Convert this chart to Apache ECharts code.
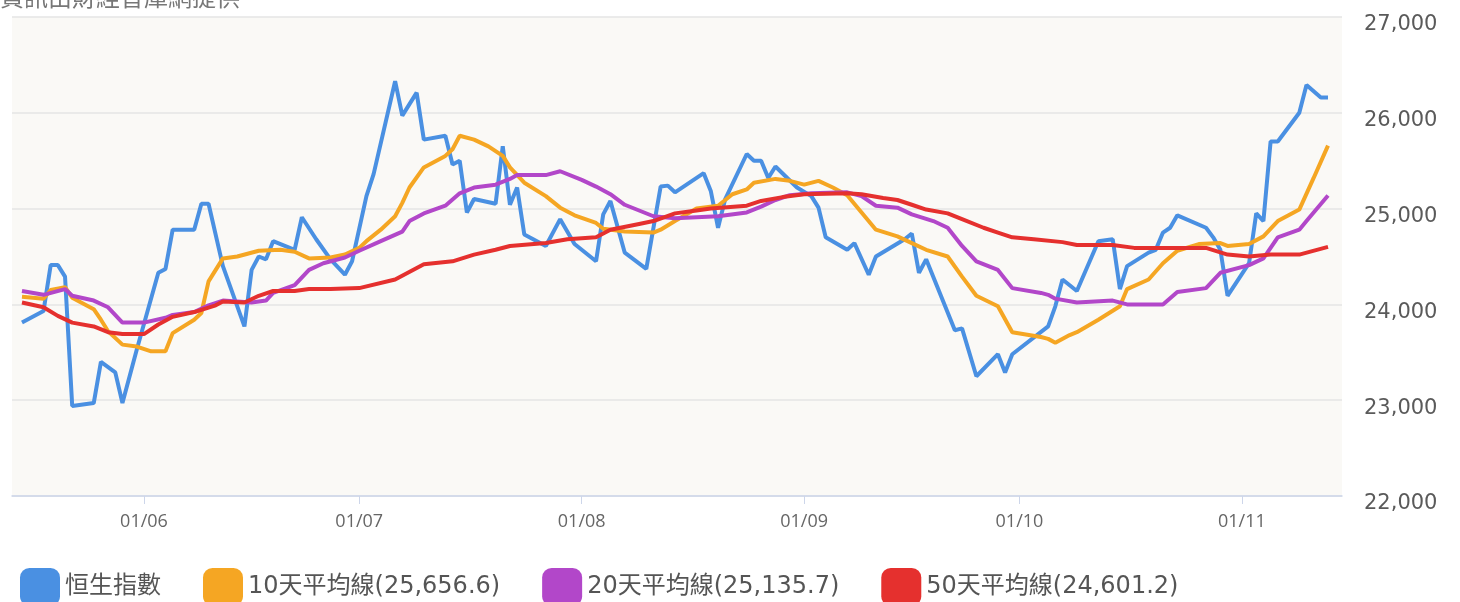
<!DOCTYPE html>
<html>
<head>
<meta charset="utf-8">
<script src="https://cdn.jsdelivr.net/npm/echarts@6/dist/echarts.min.js"></script>
<style>
  html, body { margin: 0; padding: 0; background: #fff; }
  #chart { width: 1460px; height: 602px; }
</style>
</head>
<body>
<div id="chart"></div>
<script>
// 恒生指數 + 10/20/50 day moving averages (dates are MM-DD)
const YEAR = "2025-";

const hsiDates = ["05-15","05-18","05-19","05-20","05-21","05-22","05-25","05-26","05-28","05-29","05-31",
  "06-03","06-04","06-05","06-08","06-09","06-10","06-12","06-15","06-16","06-17","06-18","06-19","06-22","06-23","06-25","06-27","06-29","06-30",
  "07-02","07-03","07-06","07-07","07-08","07-09","07-10","07-13","07-14","07-15","07-16","07-17","07-20","07-21","07-22","07-23","07-24","07-27","07-29","07-31",
  "08-03","08-04","08-05","08-07","08-10","08-12","08-13","08-14","08-18","08-19","08-20","08-21","08-24","08-25","08-26","08-27","08-28","08-31",
  "09-02","09-03","09-04","09-07","09-08","09-10","09-11","09-15","09-16","09-17","09-18","09-22","09-23","09-25","09-28","09-29","09-30",
  "10-05","10-06","10-07","10-09","10-12","10-14","10-15","10-16","10-19","10-20","10-21","10-22","10-23","10-27","10-28","10-29","10-30",
  "11-02","11-03","11-04","11-05","11-06","11-09","11-10","11-12","11-13"];
const hsiValues = [23810,23930,24410,24410,24290,22940,22970,23400,23290,22970,23530,
  24330,24370,24780,24780,25050,25050,24400,23770,24360,24500,24470,24660,24570,24910,24680,24470,24310,24450,
  25130,25360,26330,25970,26090,26210,25720,25760,25460,25500,24960,25100,25050,25650,25040,25220,24730,24610,24890,24630,
  24450,24940,25080,24540,24370,25230,25240,25170,25370,25180,24800,25100,25570,25500,25500,25320,25440,25220,
  25130,25010,24700,24570,24640,24310,24500,24680,24740,24330,24470,23730,23750,23250,23480,23290,23480,
  23770,23980,24260,24140,24660,24680,24160,24400,24540,24570,24750,24800,24930,24800,24700,24570,24090,
  24430,24950,24870,25700,25700,26000,26290,26160,26160];

const ma10Dates = ["05-15","05-18","05-19","05-21","05-22","05-25","05-26","05-27","05-29","05-31",
  "06-02","06-04","06-05","06-08","06-09","06-10","06-12","06-14","06-17","06-20","06-22","06-24","06-27","06-29",
  "07-01","07-02","07-04","07-06","07-07","07-08","07-10","07-13","07-14","07-15","07-17","07-19","07-21","07-22","07-24","07-27","07-29","07-31",
  "08-03","08-04","08-07","08-11","08-12","08-14","08-17","08-20","08-22","08-24","08-25","08-28","08-30",
  "09-01","09-03","09-05","09-07","09-09","09-11","09-14","09-16","09-18","09-21","09-23","09-25","09-28","09-30",
  "10-04","10-05","10-06","10-08","10-09","10-12","10-15","10-16","10-19","10-21","10-23","10-26","10-29","10-30",
  "11-02","11-04","11-06","11-09","11-11","11-13"];
const ma10Values = [24080,24060,24150,24180,24070,23950,23840,23720,23580,23560,
  23510,23510,23700,23840,23910,24240,24480,24500,24560,24570,24550,24480,24490,24520,
  24590,24660,24780,24920,25060,25220,25430,25550,25620,25760,25720,25650,25550,25430,25270,25130,25010,24930,
  24850,24790,24760,24750,24780,24870,25000,25030,25150,25200,25270,25310,25290,
  25250,25290,25220,25140,24960,24780,24710,24640,24570,24500,24290,24090,23980,23710,
  23660,23640,23600,23680,23710,23840,23980,24160,24260,24430,24560,24630,24640,24610,
  24630,24710,24870,24990,25320,25657];

const ma20Dates = ["05-15","05-18","05-21","05-22","05-25","05-27","05-29",
  "06-01","06-04","06-05","06-08","06-10","06-12","06-16","06-18","06-19","06-22","06-24","06-26","06-29",
  "07-01","07-04","07-07","07-08","07-10","07-13","07-15","07-17","07-20","07-22","07-23","07-27","07-29",
  "08-01","08-03","08-05","08-07","08-09","08-11","08-14","08-17","08-20","08-24","08-26","08-28","08-30",
  "09-02","09-07","09-09","09-11","09-14","09-16","09-19","09-21","09-23","09-25","09-28","09-30",
  "10-04","10-05","10-06","10-09","10-14","10-16","10-21","10-23","10-27","10-29",
  "11-02","11-04","11-06","11-09","11-10","11-13"];
const ma20Values = [24140,24100,24160,24090,24040,23970,23810,
  23810,23860,23890,23920,23990,24040,24020,24040,24120,24200,24360,24430,24490,
  24560,24660,24760,24870,24950,25030,25160,25220,25250,25310,25350,25350,25390,
  25300,25230,25150,25040,24980,24920,24900,24910,24920,24960,25020,25090,25140,
  25160,25170,25130,25030,25010,24940,24870,24800,24610,24450,24360,24170,
  24120,24100,24060,24020,24040,24000,24000,24130,24170,24330,
  24410,24480,24700,24780,24870,25136];

const ma50Dates = ["05-15","05-18","05-20","05-22","05-25","05-27","05-29",
  "06-01","06-03","06-05","06-08","06-11","06-12","06-15","06-17","06-19","06-22","06-24","06-27",
  "07-01","07-06","07-10","07-14","07-17","07-20","07-22","07-27","07-30",
  "08-03","08-05","08-09","08-11","08-14","08-17","08-19","08-24","08-26","08-29",
  "09-01","09-07","09-09","09-12","09-14","09-16","09-18","09-21","09-23","09-26","09-28","09-30",
  "10-03","10-07","10-09","10-14","10-17","10-22","10-27","10-30",
  "11-02","11-05","11-09","11-13"];
const ma50Values = [24020,23970,23880,23810,23770,23710,23690,
  23690,23790,23870,23920,23990,24030,24020,24090,24140,24140,24160,24160,
  24170,24260,24420,24450,24520,24570,24610,24640,24680,
  24700,24780,24840,24870,24950,24980,25000,25030,25080,25120,
  25150,25160,25150,25110,25090,25040,24990,24950,24890,24800,24750,24700,
  24680,24650,24620,24620,24590,24590,24590,24520,
  24500,24520,24520,24601];

const seriesNames = ["恒生指數", "10天平均線(25,656.6)", "20天平均線(25,135.7)", "50天平均線(24,601.2)"];
const seriesColors = ["#4a90e2", "#f5a623", "#b247c9", "#e5302e"];

const yTicks = { min: 22000, max: 27000, step: 1000 };

function pairs(dates, values) {
  return dates.map((d, i) => [YEAR + d, values[i]]);
}

const cjk = '"Noto Sans CJK TC", "Noto Sans", sans-serif';
const mixed = '"DejaVu Sans", "Noto Sans CJK TC", sans-serif';

const chart = echarts.init(document.getElementById("chart"));

const lineSeries = [
  pairs(hsiDates, hsiValues),
  pairs(ma10Dates, ma10Values),
  pairs(ma20Dates, ma20Values),
  pairs(ma50Dates, ma50Values),
].map((data, i) => ({
  name: seriesNames[i],
  type: "line",
  data: data,
  showSymbol: false,
  symbol: "none",
  smooth: false,
  animation: false,
  lineStyle: { width: 4, color: seriesColors[i] },
  itemStyle: { color: seriesColors[i] },
}));

chart.setOption({
  animation: false,
  backgroundColor: "#fff",
  graphic: [
    {
      type: "text",
      left: 0,
      top: -15,
      style: {
        text: "資訊由財經智庫網提供",
        fontSize: 24,
        fontFamily: cjk,
        fill: "#777",
      },
    },
  ],
  grid: {
    left: 12,
    right: 118,
    top: 17,
    bottom: 106,
    show: true,
    backgroundColor: "#faf9f6",
    borderWidth: 0,
  },
  legend: {
    left: 15,
    top: 563,
    itemWidth: 40,
    itemHeight: 38,
    itemGap: 42,
    icon: "roundRect",
    textStyle: { fontSize: 24, color: "#555", fontFamily: mixed },
    data: seriesNames,
  },
  xAxis: {
    type: "time",
    min: "2025-05-13 14:38:00",
    max: "2025-11-14 22:48:00",
    minInterval: 28 * 24 * 3600 * 1000,
    maxInterval: 31 * 24 * 3600 * 1000,
    axisLine: { lineStyle: { color: "#cdd6ea", width: 1.5 } },
    axisTick: { show: true, length: 8, lineStyle: { color: "#cdd6ea" } },
    splitLine: { show: false },
    axisLabel: {
      formatter: "{dd}/{MM}",
      color: "#666",
      fontSize: 18,
      margin: 17,
      fontFamily: '"Liberation Sans Narrow", "Open Sans", sans-serif',
      showMinLabel: false,
      showMaxLabel: false,
    },
  },
  yAxis: {
    type: "value",
    position: "right",
    min: yTicks.min,
    max: yTicks.max,
    interval: yTicks.step,
    axisLine: { show: false },
    axisTick: { show: false },
    splitLine: { lineStyle: { color: "#e4e4e4", width: 1.5 } },
    axisLabel: {
      color: "#5a5a5a",
      fontSize: 21,
      margin: 22,
      verticalAlign: "top",
      lineHeight: 16,
      fontFamily: '"DejaVu Sans", sans-serif',
    },
  },
  series: lineSeries,
});
</script>
</body>
</html>
